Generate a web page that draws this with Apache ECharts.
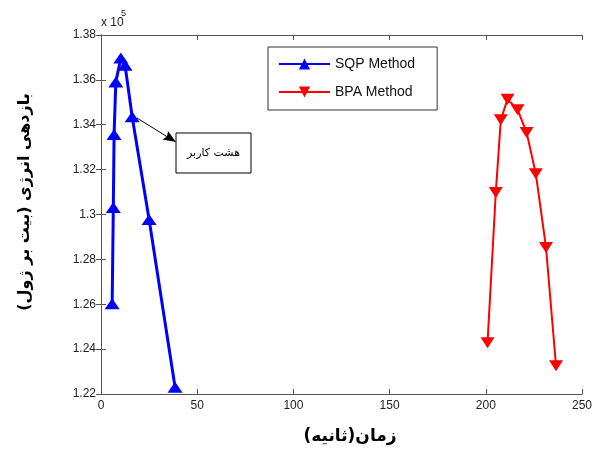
<!DOCTYPE html>
<html>
<head>
<meta charset="utf-8">
<script src="https://cdn.jsdelivr.net/npm/echarts@6/dist/echarts.min.js"></script>
<style>
  html, body { margin: 0; padding: 0; background: #fff; }
  #chart { width: 595px; height: 452px; }
</style>
</head>
<body>
<div id="chart"></div>
<script>
// values (y in units of 10^5)
var sqpX = [5.8, 6.4, 6.8, 7.7, 10.3, 12.5, 16.2, 25, 38.5]
var sqpY = [1.2602, 1.3031, 1.3356, 1.3590, 1.3697, 1.3665, 1.3436, 1.2978, 1.2230]
var bpaX = [200.9, 205.2, 207.8, 211.3, 216.5, 221.2, 226, 231.3, 236.5]
var bpaY = [1.2428, 1.3098, 1.3422, 1.3514, 1.3467, 1.3366, 1.3182, 1.2853, 1.2326]

var xTicks = [0, 50, 100, 150, 200, 250]
var yTicks = [1.22, 1.24, 1.26, 1.28, 1.3, 1.32, 1.34, 1.36, 1.38]

var seriesNames = ['SQP Method', 'BPA Method']
var xName = 'زمان(ثانیه)'
var yName = 'بازدهی انرژی (بیت بر ژول)'
var noteText = 'هشت کاربر'

var font = 'Liberation Sans, Arial, sans-serif'
var axisColor = '#555'

function pairs(xs, ys) {
  return xs.map(function (x, i) { return [x, ys[i]] })
}

function axisX(pos, showLabel) {
  return {
    type: 'value',
    position: pos,
    min: xTicks[0],
    max: xTicks[xTicks.length - 1],
    interval: xTicks[1] - xTicks[0],
    axisLine: { show: true, lineStyle: { color: axisColor, width: 1 } },
    axisTick: { show: true, inside: true, length: 5, lineStyle: { color: axisColor } },
    axisLabel: { show: showLabel, margin: 6, color: '#222', fontSize: 12, fontFamily: font },
    splitLine: { show: false }
  }
}

function axisY(pos, showLabel) {
  return {
    type: 'value',
    position: pos,
    min: yTicks[0],
    max: yTicks[yTicks.length - 1],
    interval: 0.02,
    axisLine: { show: true, lineStyle: { color: axisColor, width: 1 } },
    axisTick: { show: true, inside: true, length: 5, lineStyle: { color: axisColor } },
    axisLabel: {
      show: showLabel, margin: 5, color: '#222', fontSize: 12, fontFamily: font,
      formatter: function (v) { return String(parseFloat(v.toFixed(2))) }
    },
    splitLine: { show: false }
  }
}

var chart = echarts.init(document.getElementById('chart'), null, { renderer: 'canvas' })

chart.setOption({
  backgroundColor: '#fff',
  animation: false,
  grid: { left: 101, right: 13, top: 35, bottom: 58 },
  xAxis: [axisX('bottom', true), axisX('top', false)],
  yAxis: [axisY('left', true), axisY('right', false)],
  legend: {
    data: seriesNames,
    orient: 'vertical',
    left: 268,
    top: 47,
    padding: [10, 22, 11, 10],
    itemWidth: 51,
    itemHeight: 14,
    itemGap: 14,
    borderColor: '#333',
    borderWidth: 1,
    backgroundColor: '#fff',
    textStyle: { fontSize: 14, fontFamily: font, color: '#111' }
  },
  series: [
    {
      name: seriesNames[0],
      type: 'line',
      data: pairs(sqpX, sqpY),
      symbol: 'triangle',
      symbolSize: [15, 11],
      color: '#0000ff',
      lineStyle: { width: 3, color: '#0000ff' },
      itemStyle: { color: '#0000ff' }
    },
    {
      name: seriesNames[1],
      type: 'line',
      data: pairs(bpaX, bpaY),
      symbol: 'triangle',
      symbolRotate: 180,
      symbolSize: [14, 11],
      color: '#ff0000',
      lineStyle: { width: 2, color: '#ff0000' },
      itemStyle: { color: '#ff0000' }
    }
  ],
  graphic: [
    // exponent label
    { type: 'text', left: 101, top: 17, style: { text: 'x 10', fontSize: 12, fontFamily: font, fill: '#222' } },
    { type: 'text', left: 121, top: 9, style: { text: '5', fontSize: 9, fontFamily: font, fill: '#222' } },
    // axis names
    {
      type: 'text', x: 25, y: 202, rotation: Math.PI / 2,
      style: { text: yName, fontSize: 16, fontWeight: 'bold', fontFamily: 'DejaVu Sans', fill: '#000', align: 'center', verticalAlign: 'middle' }
    },
    {
      type: 'text', x: 350, y: 437,
      style: { text: xName, fontSize: 17, fontWeight: 'bold', fontFamily: 'DejaVu Sans', fill: '#000', align: 'center', verticalAlign: 'middle' }
    },
    // annotation arrow + box
    { type: 'line', shape: { x1: 137, y1: 118, x2: 170, y2: 138.5 }, style: { stroke: '#000', lineWidth: 1 } },
    { type: 'polygon', shape: { points: [[176, 142], [162.5, 139.5], [167, 136.5], [168, 131]] }, style: { fill: '#000' } },
    { type: 'rect', shape: { x: 176, y: 133, width: 75, height: 40 }, style: { fill: '#fff', stroke: '#000', lineWidth: 1 } },
    {
      type: 'text', x: 213.5, y: 153,
      style: { text: noteText, fontSize: 11, fontFamily: 'DejaVu Sans', fill: '#000', align: 'center', verticalAlign: 'middle' }
    }
  ]
})
</script>
</body>
</html>
